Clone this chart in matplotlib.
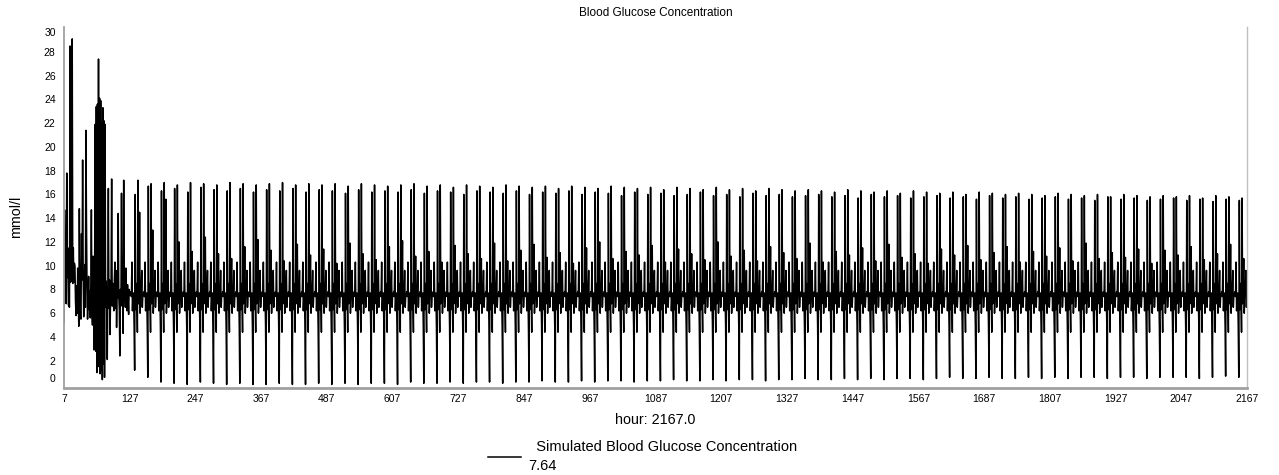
import numpy as np
import matplotlib
matplotlib.use('Agg')
import matplotlib.pyplot as plt

plt.rcParams['font.family'] = ['Liberation Sans', 'DejaVu Sans']

# ---------------- data ----------------
chart_title = 'Blood Glucose Concentration'
series_name = 'Simulated Blood Glucose Concentration'
y_label = 'mmol/l'
x_label = 'hour: 2167.0'
current_value = 7.64
hour_start, hour_end = 7, 2167
x_ticks = list(range(7, 2168, 120))
y_ticks = list(range(0, 31, 2))

# hours 7 .. 126 (unstable start)
early_values = [
    5.2, 14.7, 9.5, 12.0, 6.8, 17.8, 9.0, 11.5, 6.7, 6.6,
    6.5, 28.5, 8.6, 11.0, 8.7, 29.1, 8.5, 11.5, 8.6, 10.2,
    9.9, 7.0, 5.8, 8.3, 6.0, 9.8, 7.2, 4.9, 14.8, 8.9,
    5.6, 5.5, 12.7, 8.8, 18.9, 9.4, 5.7, 7.3, 10.1, 6.5,
    21.4, 14.0, 8.2, 5.5, 7.0, 9.1, 6.3, 7.9, 5.6, 8.4,
    14.7, 6.1, 5.0, 10.8, 6.4, 2.9, 10.5, 21.9, 2.8, 23.4,
    1.0, 23.6, 2.2, 27.4, 1.5, 24.1, 0.9, 23.9, 1.2, 22.0,
    0.4, 23.3, 1.7, 22.2, 0.6, 21.9, 6.5, 8.7, 6.3, 2.1,
    8.0, 16.5, 6.4, 8.8, 4.2, 7.2, 9.0, 17.3, 6.6, 8.5,
    7.0, 6.2, 8.9, 10.3, 6.4, 9.6, 4.8, 8.2, 7.3, 14.4,
    7.5, 6.3, 2.4, 8.0, 6.6, 16.1, 7.9, 9.0, 4.3, 17.2,
    7.0, 8.1, 6.5, 9.8, 7.6, 6.2, 8.4, 7.1, 5.9, 8.0,
]

# typical 24-hour profile (slots 9, 10, 15, 18 come from the per-day lists)
day_profile = [7.5, 7.6, 7.8, 7.4, 10.3, 6.2, 7.5, 7.7, 5.0, 0.0,
               16.0, 6.3, 8.5, 7.6, 4.4, 16.8, 6.8, 7.4, 11.0, 6.0,
               7.6, 7.8, 9.6, 6.5]

# per-day values for days 5 .. 89
day_low = [
    1.2, 0.6, 0.2, 0.1, 0.0, 0.2, 0.1, 0.0, 0.1, 0.0,
    0.0, 0.1, 0.0, 0.0, 0.1, 0.0, 0.1, 0.0, 0.1, 0.1,
    0.0, 0.2, 0.1, 0.1, 0.2, 0.1, 0.2, 0.2, 0.1, 0.2,
    0.2, 0.3, 0.2, 0.2, 0.3, 0.2, 0.3, 0.3, 0.2, 0.3,
    0.3, 0.4, 0.3, 0.3, 0.4, 0.3, 0.4, 0.4, 0.3, 0.4,
    0.4, 0.5, 0.4, 0.4, 0.5, 0.4, 0.5, 0.4, 0.5, 0.5,
    0.4, 0.5, 0.6, 0.5, 0.5, 0.6, 0.5, 0.5, 0.6, 0.5,
    0.6, 0.5, 0.6, 0.6, 0.5, 0.6, 0.6, 0.5, 0.6, 0.6,
    0.6, 0.5, 0.6, 0.7, 0.6,
]
day_peak_a = [
    16.0, 16.7, 16.3, 16.5, 16.2, 16.6, 16.4, 16.3, 16.5, 16.2,
    16.4, 16.3, 16.5, 16.2, 16.4, 16.3, 16.1, 16.4, 16.2, 16.3,
    16.2, 16.4, 16.1, 16.3, 16.2, 16.0, 16.3, 16.2, 16.1, 16.3,
    16.0, 16.2, 16.1, 16.3, 16.0, 16.2, 16.1, 15.9, 16.2, 16.0,
    16.1, 15.9, 16.0, 16.2, 15.9, 16.0, 15.8, 16.1, 15.9, 16.0,
    15.8, 15.9, 16.0, 15.8, 15.9, 15.7, 16.0, 15.8, 15.9, 15.7,
    15.8, 15.9, 15.7, 15.8, 15.6, 15.9, 15.7, 15.8, 15.6, 15.7,
    15.8, 15.6, 15.7, 15.5, 15.8, 15.6, 15.7, 15.5, 15.6, 15.7,
    15.5, 15.6, 15.4, 15.6, 15.5,
]
day_peak_b = [
    17.2, 16.9, 17.0, 16.8, 17.0, 16.9, 16.8, 17.0, 16.9, 16.8,
    16.9, 17.0, 16.8, 16.9, 16.8, 16.9, 16.7, 16.9, 16.8, 16.7,
    16.8, 16.9, 16.7, 16.8, 16.6, 16.8, 16.7, 16.6, 16.8, 16.7,
    16.6, 16.7, 16.5, 16.7, 16.6, 16.5, 16.7, 16.6, 16.5, 16.6,
    16.4, 16.6, 16.5, 16.4, 16.6, 16.4, 16.5, 16.3, 16.5, 16.4,
    16.3, 16.4, 16.3, 16.2, 16.4, 16.3, 16.2, 16.3, 16.1, 16.3,
    16.2, 16.1, 16.2, 16.0, 16.2, 16.1, 16.0, 16.1, 16.0, 15.9,
    16.1, 16.0, 15.9, 16.0, 15.8, 16.0, 15.9, 15.8, 15.9, 15.8,
    15.9, 15.7, 15.9, 15.8, 15.7,
]
day_mid = [
    14.5, 13.0, 15.6, 12.0, 11.2, 12.4, 11.0, 10.6, 11.6, 12.2,
    11.3, 10.4, 11.8, 10.9, 11.4, 10.2, 11.9, 11.0, 10.5, 11.6,
    12.1, 10.8, 11.2, 10.3, 11.7, 11.0, 10.6, 11.9, 10.4, 11.3,
    11.8, 10.7, 11.1, 10.2, 11.5, 12.0, 10.6, 11.2, 10.9, 11.7,
    10.3, 11.4, 11.0, 10.5, 12.0, 10.8, 11.3, 10.4, 11.6, 11.1,
    10.6, 11.9, 10.3, 11.2, 10.9, 11.5, 10.4, 11.8, 10.7, 11.0,
    10.2, 11.4, 10.9, 11.7, 10.5, 11.1, 11.6, 10.3, 11.2, 10.8,
    11.5, 10.4, 11.9, 10.6, 11.1, 10.7, 11.4, 10.2, 11.3, 10.9,
    11.6, 10.5, 11.0, 11.8, 10.6,
]

# ---------------- assemble series ----------------
values = list(early_values)
for lo, pa, pb, md in zip(day_low, day_peak_a, day_peak_b, day_mid):
    day = list(day_profile)
    day[9], day[10], day[15], day[18] = lo, pa, pb, md
    values.extend(day)
values.append(current_value)
hours = np.arange(hour_start, hour_end + 1)

# ---------------- figure ----------------
W, H = 1279, 475
fig = plt.figure(figsize=(W / 100, H / 100), dpi=100)
ax_l, ax_r, ax_t, ax_b = 64, 1247, 27, 388
ax = fig.add_axes([ax_l / W, 1 - ax_b / H, (ax_r - ax_l) / W, (ax_b - ax_t) / H])

line, = ax.plot(hours, values, color='black', lw=1.1, label=series_name)

ax.set_xlim(hour_start, hour_end)
ax.set_ylim(-0.3, 30.1)
ax.set_xticks(x_ticks)
ax.set_xticklabels([str(t) for t in x_ticks])
ax.set_yticks(y_ticks)
ax.set_yticklabels([str(t) for t in y_ticks])
ax.tick_params(axis='both', length=0, labelsize=7.5, colors='black')
ax.tick_params(axis='y', pad=6)
ax.tick_params(axis='x', pad=4)
ylabs = ax.get_yticklabels()
ylabs[0].set_va('bottom')
ylabs[-1].set_va('top')

ax.spines['top'].set_visible(False)
ax.spines['left'].set_color('#a0a0a0')
ax.spines['left'].set_linewidth(1.3)
ax.spines['bottom'].set_color('#a0a0a0')
ax.spines['bottom'].set_linewidth(2.0)
ax.spines['right'].set_color('#c0c0c0')
ax.spines['right'].set_linewidth(1.0)

ax.set_title(chart_title, fontsize=8.5, pad=8)
ax.set_xlabel(x_label, fontsize=10.3)
ax.xaxis.set_label_coords(0.5, (ax_b - 413) / (ax_b - ax_t))
ax.set_ylabel(y_label, fontsize=10.3)
ax.yaxis.set_label_coords((23 - ax_l) / (ax_r - ax_l), (ax_b - 217) / (ax_b - ax_t))

leg = fig.legend([line], ['  ' + series_name + '\n' + f'{current_value:.2f}'],
                 loc='center left', bbox_to_anchor=(488 / W, 1 - 456.5 / H),
                 frameon=False, fontsize=10.5, borderpad=0, borderaxespad=0,
                 handlelength=2.26, handletextpad=0.48)
for t in leg.get_texts():
    t.set_linespacing(1.4)

fig.savefig('out.png', dpi=100, facecolor='white')
